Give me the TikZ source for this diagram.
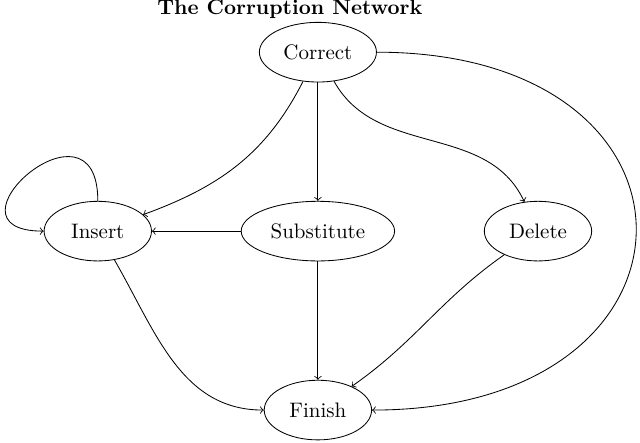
\documentclass[tikz,border=0pt]{standalone}
\usetikzlibrary{shapes.geometric, positioning}

\begin{document}
\begin{tikzpicture}[
    estado/.style={draw, ellipse, minimum width=1.8cm, minimum height=1cm},
    titulo/.style={font=\bfseries}]
  \useasboundingbox (-5.33,-3.54) rectangle (5.40,3.875);

  \node[estado] (sub) at (0,0) {Substitute};
  \node[estado] (cor) at (0,3) {Correct};
  \node[estado] (ins) at (-3.69,0) {Insert};
  \node[estado] (del) at (3.69,0) {Delete};
  \node[estado] (fin) at (0,-3) {Finish};
  \node[titulo] (tit) at (-0.47,3.72) {The Corruption Network};

  % rectas
  \draw[->] (cor) -- (sub);
  \draw[->] (sub) -- (ins);
  \draw[->] (sub) -- (fin);

  % curvas
  \draw[->] (cor) to[out=-117, in=20] (ins);
  \draw[->] (cor) to[out=-61, in=115] (del);
  \draw[->] (cor.east) .. controls +(5.85,0) and +(5.85,0) .. (fin.east);
  \draw[->] (ins) to[out=-60, in=180] (fin);
  \draw[->] (del) to[out=-145, in=35] (fin);
  \draw[->] (ins.north) .. controls +(0,1.93) and +(-1.85,0) .. (ins.west);
\end{tikzpicture}
\end{document}
